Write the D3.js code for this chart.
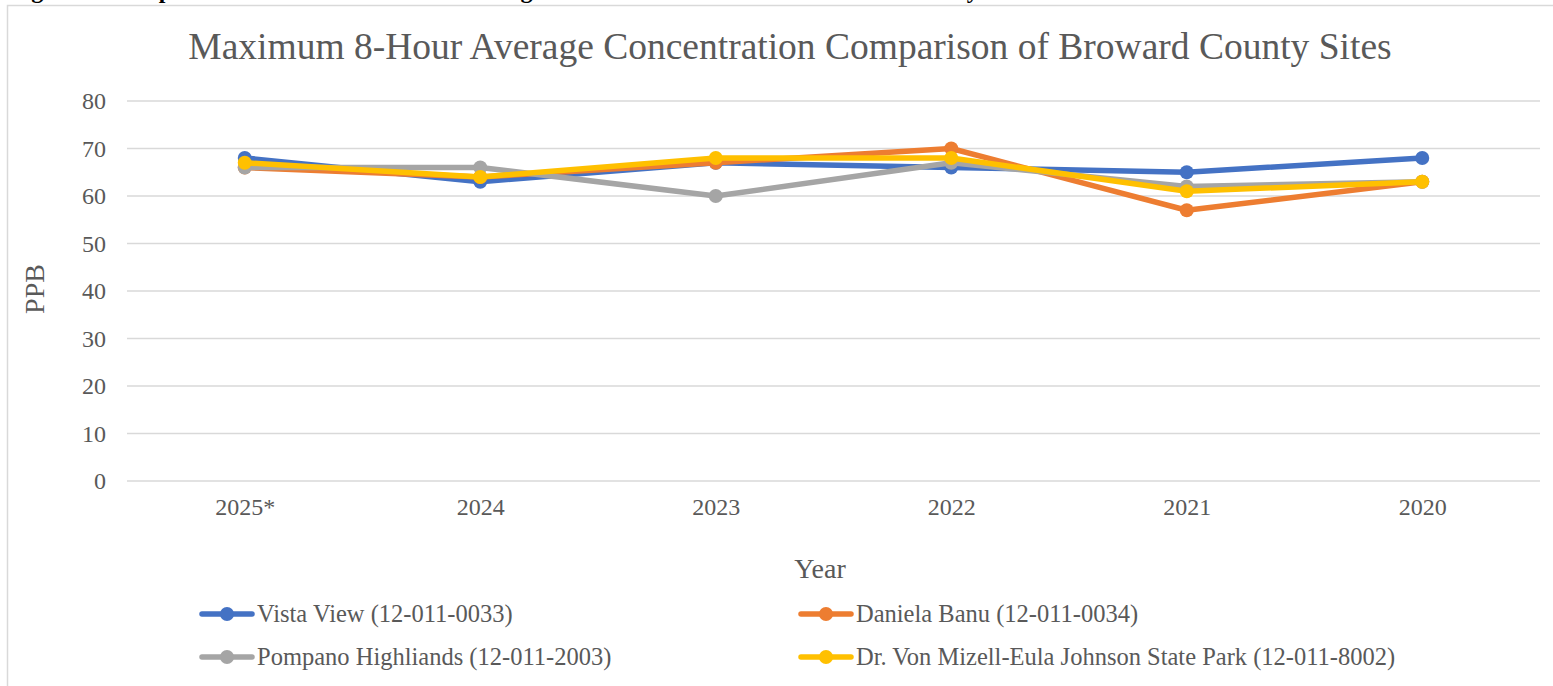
<!DOCTYPE html>
<html>
<head>
<meta charset="utf-8">
<script src="https://cdn.jsdelivr.net/npm/d3@7"></script>
<style>
  html, body { margin: 0; padding: 0; background: #fff; overflow: hidden; }
  svg { display: block; font-family: "Liberation Serif", "Times New Roman", serif; }
</style>
</head>
<body>
<svg id="chart" width="1553" height="686"></svg>
<script>
// Years shown along the x axis
const years = ["2025*", "2024", "2023", "2022", "2021", "2020"];

// Maximum 8-hour average ozone (ppb) for each monitoring site
const vistaView     = [68, 63, 67, 66, 65, 68];
const danielaBanu   = [66, 64, 67, 70, 57, 63];
const pompano       = [66, 66, 60, 67, 62, 63];
const vonMizell     = [67, 64, 68, 68, 61, 63];

const seriesNames = [
  "Vista View (12-011-0033)",
  "Daniela Banu (12-011-0034)",
  "Pompano Highliands (12-011-2003)",
  "Dr. Von Mizell-Eula Johnson State Park (12-011-8002)"
];
const seriesColors = ["#4472C4", "#ED7D31", "#A5A5A5", "#FFC000"];
const yTicks = [0, 10, 20, 30, 40, 50, 60, 70, 80];

const series = [vistaView, danielaBanu, pompano, vonMizell].map((vals, i) => ({
  name: seriesNames[i], color: seriesColors[i], values: vals
}));

const svg = d3.select("#chart");
const textColor = "#595959";
const serif = "Liberation Serif, Times New Roman, serif";

// Figure caption running off the top of the page
svg.append("text")
  .attr("x", 10).attr("y", -2)
  .attr("font-size", 24).attr("font-weight", "bold").attr("fill", "#000")
  .text("Figure 4: Comparison of Maximum 8-Hour Average Concentrations Between Broward County Ozone Monitors");

// Chart frame
svg.append("rect")
  .attr("x", 7.5).attr("y", 5.5).attr("width", 1560).attr("height", 700)
  .attr("fill", "none").attr("stroke", "#d9d9d9").attr("stroke-width", 1.5);

const plot = { left: 127, right: 1540, top: 101, bottom: 481 };

const x = d3.scalePoint().domain(years)
  .range([plot.left, plot.right]).padding(0.5);
const y = d3.scaleLinear().domain([0, 80]).range([plot.bottom, plot.top]);

// Horizontal gridlines
svg.append("g")
  .selectAll("line").data(yTicks).join("line")
  .attr("x1", plot.left).attr("x2", plot.right)
  .attr("y1", d => y(d)).attr("y2", d => y(d))
  .attr("stroke", "#d9d9d9").attr("stroke-width", 1.5);

// Y axis labels
const yAxis = d3.axisLeft(y).tickValues(yTicks).tickSize(0).tickPadding(21);
svg.append("g").attr("transform", `translate(${plot.left},0)`).call(yAxis)
  .call(g => g.select(".domain").remove())
  .call(g => g.selectAll("text").attr("font-size", 24).attr("fill", textColor)
    .attr("font-family", serif));

// X axis labels
const xAxis = d3.axisBottom(x).tickSize(0).tickPadding(17);
svg.append("g").attr("transform", `translate(0,${plot.bottom})`).call(xAxis)
  .call(g => g.select(".domain").remove())
  .call(g => g.selectAll("text").attr("font-size", 24).attr("fill", textColor)
    .attr("font-family", serif));

// Title
svg.append("text")
  .attr("x", 790).attr("y", 59).attr("text-anchor", "middle")
  .attr("font-size", 37.5).attr("fill", textColor)
  .text("Maximum 8-Hour Average Concentration Comparison of Broward County Sites");

// Axis titles
svg.append("text")
  .attr("x", 820).attr("y", 578).attr("text-anchor", "middle")
  .attr("font-size", 28).attr("fill", textColor).text("Year");
svg.append("text")
  .attr("transform", "translate(44,289) rotate(-90)").attr("text-anchor", "middle")
  .attr("font-size", 28).attr("fill", textColor).text("PPB");

// Series lines and markers
const line = d3.line().x((d, i) => x(years[i])).y(d => y(d));
const sg = svg.append("g").selectAll("g").data(series).join("g");
sg.append("path")
  .attr("d", d => line(d.values))
  .attr("fill", "none").attr("stroke", d => d.color)
  .attr("stroke-width", 5.5).attr("stroke-linejoin", "round").attr("stroke-linecap", "round");
sg.selectAll("circle").data(d => d.values.map((v, i) => ({ v, i, c: d.color }))).join("circle")
  .attr("cx", d => x(years[d.i])).attr("cy", d => y(d.v))
  .attr("r", 7).attr("fill", d => d.c);

// Legend in two columns
const legendPos = [[199, 614], [798, 614], [199, 657], [798, 657]];
const lg = svg.append("g").selectAll("g").data(series).join("g")
  .attr("transform", (d, i) => `translate(${legendPos[i][0]},${legendPos[i][1]})`);
lg.append("line").attr("x1", 3).attr("x2", 53).attr("y1", 0).attr("y2", 0)
  .attr("stroke", d => d.color).attr("stroke-width", 5.5).attr("stroke-linecap", "round");
lg.append("circle").attr("cx", 28).attr("cy", 0).attr("r", 7).attr("fill", d => d.color);
lg.append("text").attr("x", 58).attr("y", 8)
  .attr("font-size", 24.5).attr("fill", textColor).text(d => d.name);
</script>
</body>
</html>
